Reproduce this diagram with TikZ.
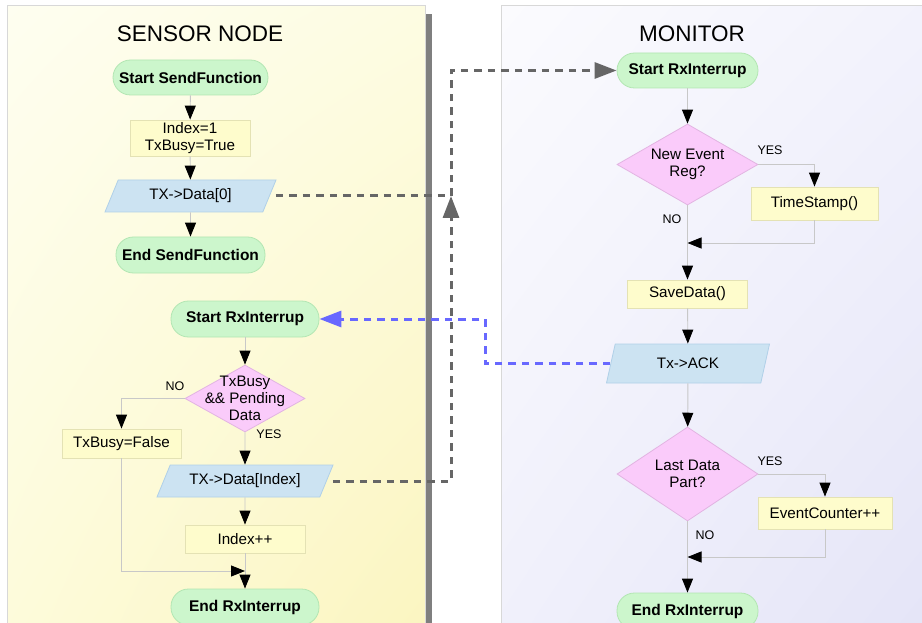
\documentclass[tikz,border=0pt]{standalone}
\usepackage{fontspec}
\setmainfont{Liberation Sans}
\usetikzlibrary{arrows.meta,shapes.geometric,shadings}
\definecolor{pillG}{HTML}{CCF6CC}
\definecolor{pillB}{HTML}{B2E6B2}
\definecolor{boxY}{HTML}{FEFCCC}
\definecolor{boxB}{HTML}{E4E2B4}
\definecolor{ioB}{HTML}{CCE3F2}
\definecolor{ioBd}{HTML}{B0D0E8}
\definecolor{decP}{HTML}{FACBFA}
\definecolor{decPd}{HTML}{E2B4E2}
\definecolor{lineG}{HTML}{C8C8C8}
\definecolor{dashG}{HTML}{666666}
\definecolor{dashB}{HTML}{6868FF}
\definecolor{panelBd}{HTML}{D8D8D8}
\definecolor{shadowG}{HTML}{7F7F7F}
\definecolor{yUL}{HTML}{FEFEF0}
\definecolor{yUR}{HTML}{FDFCE2}
\definecolor{yLL}{HTML}{FDFBDA}
\definecolor{yLR}{HTML}{FBF5C0}
\definecolor{lUL}{HTML}{FBFBFE}
\definecolor{lUR}{HTML}{F2F2FC}
\definecolor{lLL}{HTML}{F0F0FB}
\definecolor{lLR}{HTML}{E4E4F7}
\begin{document}
\begin{tikzpicture}[x=1pt,y=-1pt,
  txt/.style={font=\fontsize{15.2}{17}\selectfont},
  pill/.style={rectangle, rounded corners=17.5pt, fill=pillG, draw=pillB, line width=0.8pt, inner sep=0pt, font=\fontsize{15.5}{17}\selectfont\bfseries},
  boxnode/.style={rectangle, fill=boxY, draw=boxB, line width=0.8pt, inner sep=0pt, align=center, txt},
  ionode/.style={trapezium, trapezium stretches body, trapezium left angle=47, trapezium right angle=133, fill=ioB, draw=ioBd, line width=0.8pt, inner sep=0pt, txt},
  decnode/.style={diamond, fill=decP, draw=decPd, line width=0.8pt, inner sep=0pt},
  dectxt/.style={font=\fontsize{15.2}{17}\selectfont, align=center},
  conn/.style={draw=lineG, line width=0.9pt, -{Triangle[length=14pt,width=11pt,color=black]}},
  gdash/.style={draw=dashG, line width=3pt, dash pattern=on 7.5pt off 6pt, -{Triangle[length=22pt,width=16pt,color=dashG]}},
  bdash/.style={draw=dashB, line width=3pt, dash pattern=on 7.5pt off 6pt, -{Triangle[length=22pt,width=16pt,color=dashB]}},
  lbl/.style={font=\fontsize{12.5}{14}\selectfont},
  title/.style={font=\fontsize{22.5}{26}\selectfont}]
\useasboundingbox (0,0) rectangle (922,623);
\fill[white] (0,0) rectangle (922,623);
\begin{scope}
\clip (0,0) rectangle (922,623);
% panels
\fill[shadowG] (14,14) rectangle (432,640);
\shade[upper left=yUL, upper right=yUR, lower left=yLL, lower right=yLR] (7,6) rectangle (425,640);
\draw[panelBd, line width=1pt] (7,6) rectangle (425,640);
\shade[upper left=lUL, upper right=lUR, lower left=lLL, lower right=lLR] (501,6) rectangle (940,640);
\draw[panelBd, line width=1pt] (501,6) rectangle (940,640);
\end{scope}

% titles
\node[title] (t1) at (200,34) {SENSOR NODE};
\node[title] (t2) at (692,34) {MONITOR};

% ---------- sensor node ----------
\node[pill, minimum width=155pt, minimum height=35pt] (sstart) at (190.5,77.5) {Start SendFunction};
\node[boxnode, minimum width=120pt, minimum height=36pt] (init) at (190,138) {Index=1\\TxBusy=True};
\node[ionode, minimum width=171pt, minimum height=32pt] (d0) at (190.5,196) {TX->Data[0]};
\node[pill, minimum width=149pt, minimum height=36pt] (send) at (190.5,255) {End SendFunction};

\node[pill, minimum width=148pt, minimum height=36pt] (rstart) at (245,319) {Start RxInterrup};
\node[decnode, minimum width=120pt, minimum height=67pt, label={[dectxt]center:TxBusy\\\&\& Pending\\Data}] (dec1) at (245,398.5) {};
\node[boxnode, minimum width=119pt, minimum height=29pt] (busyF) at (121.5,443.5) {TxBusy=False};
\node[ionode, minimum width=176pt, minimum height=32pt] (dIdx) at (245,481) {TX->Data[Index]};
\node[boxnode, minimum width=120pt, minimum height=28pt] (idx) at (245,539) {Index++};
\node[pill, minimum width=148pt, minimum height=36pt] (rend) at (245,607) {End RxInterrup};

\node[lbl] (no1) at (175,386) {NO};
\node[lbl] (yes1) at (269,434) {YES};

\draw[conn] (sstart) -- (init);
\draw[conn] (init) -- (d0);
\draw[conn] (d0) -- (send);
\draw[conn] (rstart) -- (dec1);
\draw[conn] (dec1.west) -| (busyF.north);
\draw[conn] (dec1.south) -- (dIdx.north);
\draw[conn] (dIdx) -- (idx);
\draw[conn] (idx) -- (rend);
\coordinate (m1) at (245,571);
\draw[conn] (busyF.south) |- (m1);

% ---------- monitor ----------
\node[pill, minimum width=141pt, minimum height=35pt] (mstart) at (687.5,70.5) {Start RxInterrup};
\node[decnode, minimum width=141pt, minimum height=81pt, label={[dectxt]center:New Event\\Reg?}] (dec2) at (687.5,164.5) {};
\node[boxnode, minimum width=127pt, minimum height=33pt] (ts) at (814.5,203.5) {TimeStamp()};
\node[boxnode, minimum width=120pt, minimum height=28pt] (save) at (687.5,294) {SaveData()};
\node[ionode, trapezium left angle=51, trapezium right angle=129, minimum width=163pt, minimum height=39pt] (ack) at (688,363.5) {Tx->ACK};
\node[decnode, minimum width=141pt, minimum height=94pt, label={[dectxt]center:Last Data\\Part?}] (dec3) at (687.5,474) {};
\node[boxnode, minimum width=134pt, minimum height=32pt] (ec) at (825,513) {EventCounter++};
\node[pill, minimum width=141pt, minimum height=36pt] (mend) at (687.5,611) {End RxInterrup};

\node[lbl] (yes2) at (770,150) {YES};
\node[lbl] (no2) at (672,219) {NO};
\node[lbl] (yes3) at (770,461) {YES};
\node[lbl] (no3) at (705,535) {NO};

\draw[conn] (mstart) -- (dec2);
\draw[conn] (dec2.east) -| (ts.north);
\draw[conn] (dec2.south) -- (save.north);
\coordinate (m2) at (687.5,243);
\draw[conn] (ts.south) |- (m2);
\draw[conn] (save) -- (ack);
\draw[conn] (ack) -- (dec3);
\draw[conn] (dec3.east) -| (ec.north);
\draw[conn] (dec3.south) -- (mend.north);
\coordinate (m3) at (687.5,557);
\draw[conn] (ec.south) |- (m3);

% ---------- message links ----------
\coordinate (gx) at (451,0);
\coordinate (bx) at (485,0);
\draw[gdash] ([xshift=6pt]d0.east) -| (gx |- mstart.west) -- (mstart.west);
\draw[gdash] ([xshift=6pt]dIdx.east) -| (gx |- d0.east);
\draw[bdash] (ack.west) -| (bx |- rstart.east) -- (rstart.east);
\end{tikzpicture}
\end{document}
